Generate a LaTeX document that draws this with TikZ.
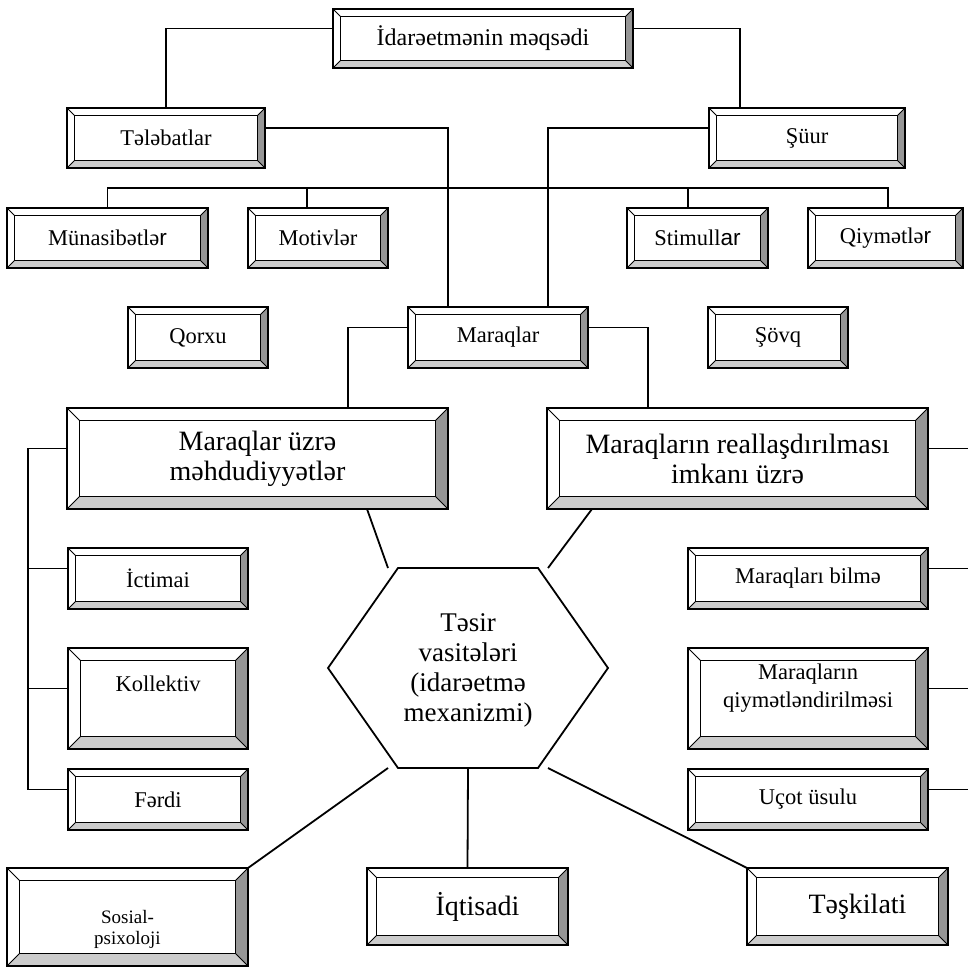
\documentclass[tikz,border=0pt]{standalone}
\usepackage{fontspec}
\setmainfont{Liberation Serif}
\newfontfamily\arialf{Liberation Sans}
\definecolor{bevdark}{RGB}{150,150,150}
\definecolor{bevlight}{RGB}{204,204,204}
\tikzset{
  conn/.style={line width=1.8pt},
  outerframe/.style={line width=2.2pt},
  innerframe/.style={line width=1.4pt},
  cornerline/.style={line width=0.8pt},
  smalltxt/.style={font=\fontsize{22.5}{28}\selectfont, align=center, inner sep=0pt},
  titletxt/.style={font=\fontsize{24}{28}\selectfont},
  bigtxt/.style={font=\fontsize{28}{30}\selectfont},
  sostxt/.style={font=\fontsize{19}{21}\selectfont},
  hextxt/.style={font=\fontsize{27}{30}\selectfont, align=center, inner sep=0pt},
}
% bevelled box: [text options]{name}{x1}{y1}{x2}{y2}{text}
\newcommand\bevbox[7][]{%
  \pgfmathsetmacro\bvw{0.125*min(#5-#3,#6-#4)}%
  \fill[white] (#3,#4) rectangle (#5,#6);
  \fill[bevdark] (#5,#4) -- (#5,#6) -- ({#5-\bvw},{#6-\bvw}) -- ({#5-\bvw},{#4+\bvw}) -- cycle;
  \fill[bevlight] (#3,#6) -- (#5,#6) -- ({#5-\bvw},{#6-\bvw}) -- ({#3+\bvw},{#6-\bvw}) -- cycle;
  \draw[cornerline] (#3,#4) -- ({#3+\bvw},{#4+\bvw}) (#5,#4) -- ({#5-\bvw},{#4+\bvw})
                    (#3,#6) -- ({#3+\bvw},{#6-\bvw}) (#5,#6) -- ({#5-\bvw},{#6-\bvw});
  \draw[innerframe] ({#3+\bvw},{#4+\bvw}) rectangle ({#5-\bvw},{#6-\bvw});
  \node[draw, outerframe, inner sep=0pt, outer sep=0pt,
        minimum width={#5-#3}, minimum height={#6-#4}] (#2) at ({(#3+#5)/2},{(#4+#6)/2}) {};
  \node[smalltxt,#1] (#2-t) at (#2.center) {#7};
}
\begin{document}
\begin{tikzpicture}[x=1pt,y=-1pt]
\fill[white] (0,0) rectangle (967,968);
\useasboundingbox (0,0) rectangle (967,968);

% boxes
\bevbox[titletxt]{goal}{333}{9}{633}{68}{İdarəetmənin məqsədi}
\bevbox{teleb}{67}{108}{265}{168}{Tələbatlar}
\bevbox{shuur}{709}{108}{905}{168}{Şüur}
\bevbox{munas}{7}{208}{208}{268}{Münasibətlə{\arialf r}}
\bevbox{motiv}{248}{208}{388}{268}{Motivlər}
\bevbox{stim}{627}{208}{768}{268}{Stimull{\arialf ar}}
\bevbox{qiym}{808}{208}{963}{268}{Qiymətlə{\arialf r}}
\bevbox{qorxu}{128}{307}{268}{368}{Qorxu}
\bevbox{marq}{408}{307}{588}{368}{Maraqlar}
\bevbox{sovq}{708}{307}{848}{368}{Şövq}
\bevbox[bigtxt]{mehd}{67}{408}{448}{509}{Maraqlar üzrə\\məhdudiyyətlər}
\bevbox[bigtxt]{real}{547}{408}{928}{509}{Maraqların reallaşdırılması\\imkanı üzrə}
\bevbox{ictim}{68}{548}{248}{609}{İctimai}
\bevbox[yshift=15pt]{kollek}{68}{648}{248}{749}{Kollektiv}
\bevbox{ferdi}{68}{769}{248}{830}{Fərdi}
\bevbox{bilme}{688}{548}{928}{609}{Maraqları bilmə}
\bevbox[yshift=10pt]{qiymetl}{688}{648}{928}{749}{Maraqların\\qiymətləndirilməsi}
\bevbox{ucot}{688}{769}{928}{830}{Uçot üsulu}
\bevbox[sostxt,yshift=-12pt]{sosial}{7}{868}{248}{966}{Sosial-\\psixoloji}
\bevbox[bigtxt,xshift=10pt]{iqtis}{367}{868}{568}{945}{İqtisadi}
\bevbox[bigtxt,xshift=10pt]{teskil}{747}{868}{948}{945}{Təşkilati}

% central hexagon
\draw[conn] (398,568) -- (538,568) -- (608,668) -- (538,768) -- (398,768) -- (328,668) -- cycle;
\node[hextxt] (hex) at (468,670) {Təsir\\vasitələri\\(idarəetmə\\mexanizmi)};
\coordinate (hexUL) at (388,568);
\coordinate (hexUR) at (548,568);
\coordinate (hexLL) at (388,768);
\coordinate (hexLR) at (548,768);
\coordinate (hexB)  at (468,768);

% upper tree
\draw[conn] ([yshift=10pt]goal.west) -| (teleb.north);
\draw[conn] ([yshift=10pt]goal.east) -| ([xshift=31pt]shuur.north west);
\draw[conn] ([yshift=10pt]teleb.east) -| ([xshift=40pt]marq.north west);
\draw[conn] ([yshift=10pt]shuur.west) -| ([xshift=-40pt]marq.north east);
\draw[conn] (munas.north) -- ++(0,-20) -| ([xshift=2.5pt]qiym.north);
\draw[conn] ([xshift=-11pt]motiv.north) -- ++(0,-20);
\draw[conn] ([xshift=-9.5pt]stim.north) -- ++(0,-20);
\draw[conn] ([yshift=10pt]marq.west) -| ([xshift=-100pt]mehd.north east);
\draw[conn] ([yshift=10pt]marq.east) -| ([xshift=101pt]real.north west);

% side buses
\draw[conn] ([yshift=10pt]mehd.west) -- ++(-39,0) |- ([yshift=10pt]ferdi.west);
\draw[conn] ([yshift=10pt]ictim.west) -- ++(-40,0);
\draw[conn] ([yshift=10pt]kollek.west) -- ++(-40,0);
\draw[conn] ([yshift=10pt]real.east) -- ++(45,0) |- ([yshift=10pt]ucot.east);
\draw[conn] ([yshift=10pt]bilme.east) -- ++(45,0);
\draw[conn] ([yshift=10pt]qiymetl.east) -- ++(45,0);

% spokes of the hexagon
\draw[conn] (hexUL) -- ([xshift=-81pt]mehd.south east);
\draw[conn] (hexUR) -- ([xshift=45pt]real.south west);
\draw[conn] (hexLL) -- (sosial.north east);
\draw[conn] (hexLR) -- (teskil.north west);
\draw[conn] (hexB) -- (iqtis.north);
\end{tikzpicture}
\end{document}
